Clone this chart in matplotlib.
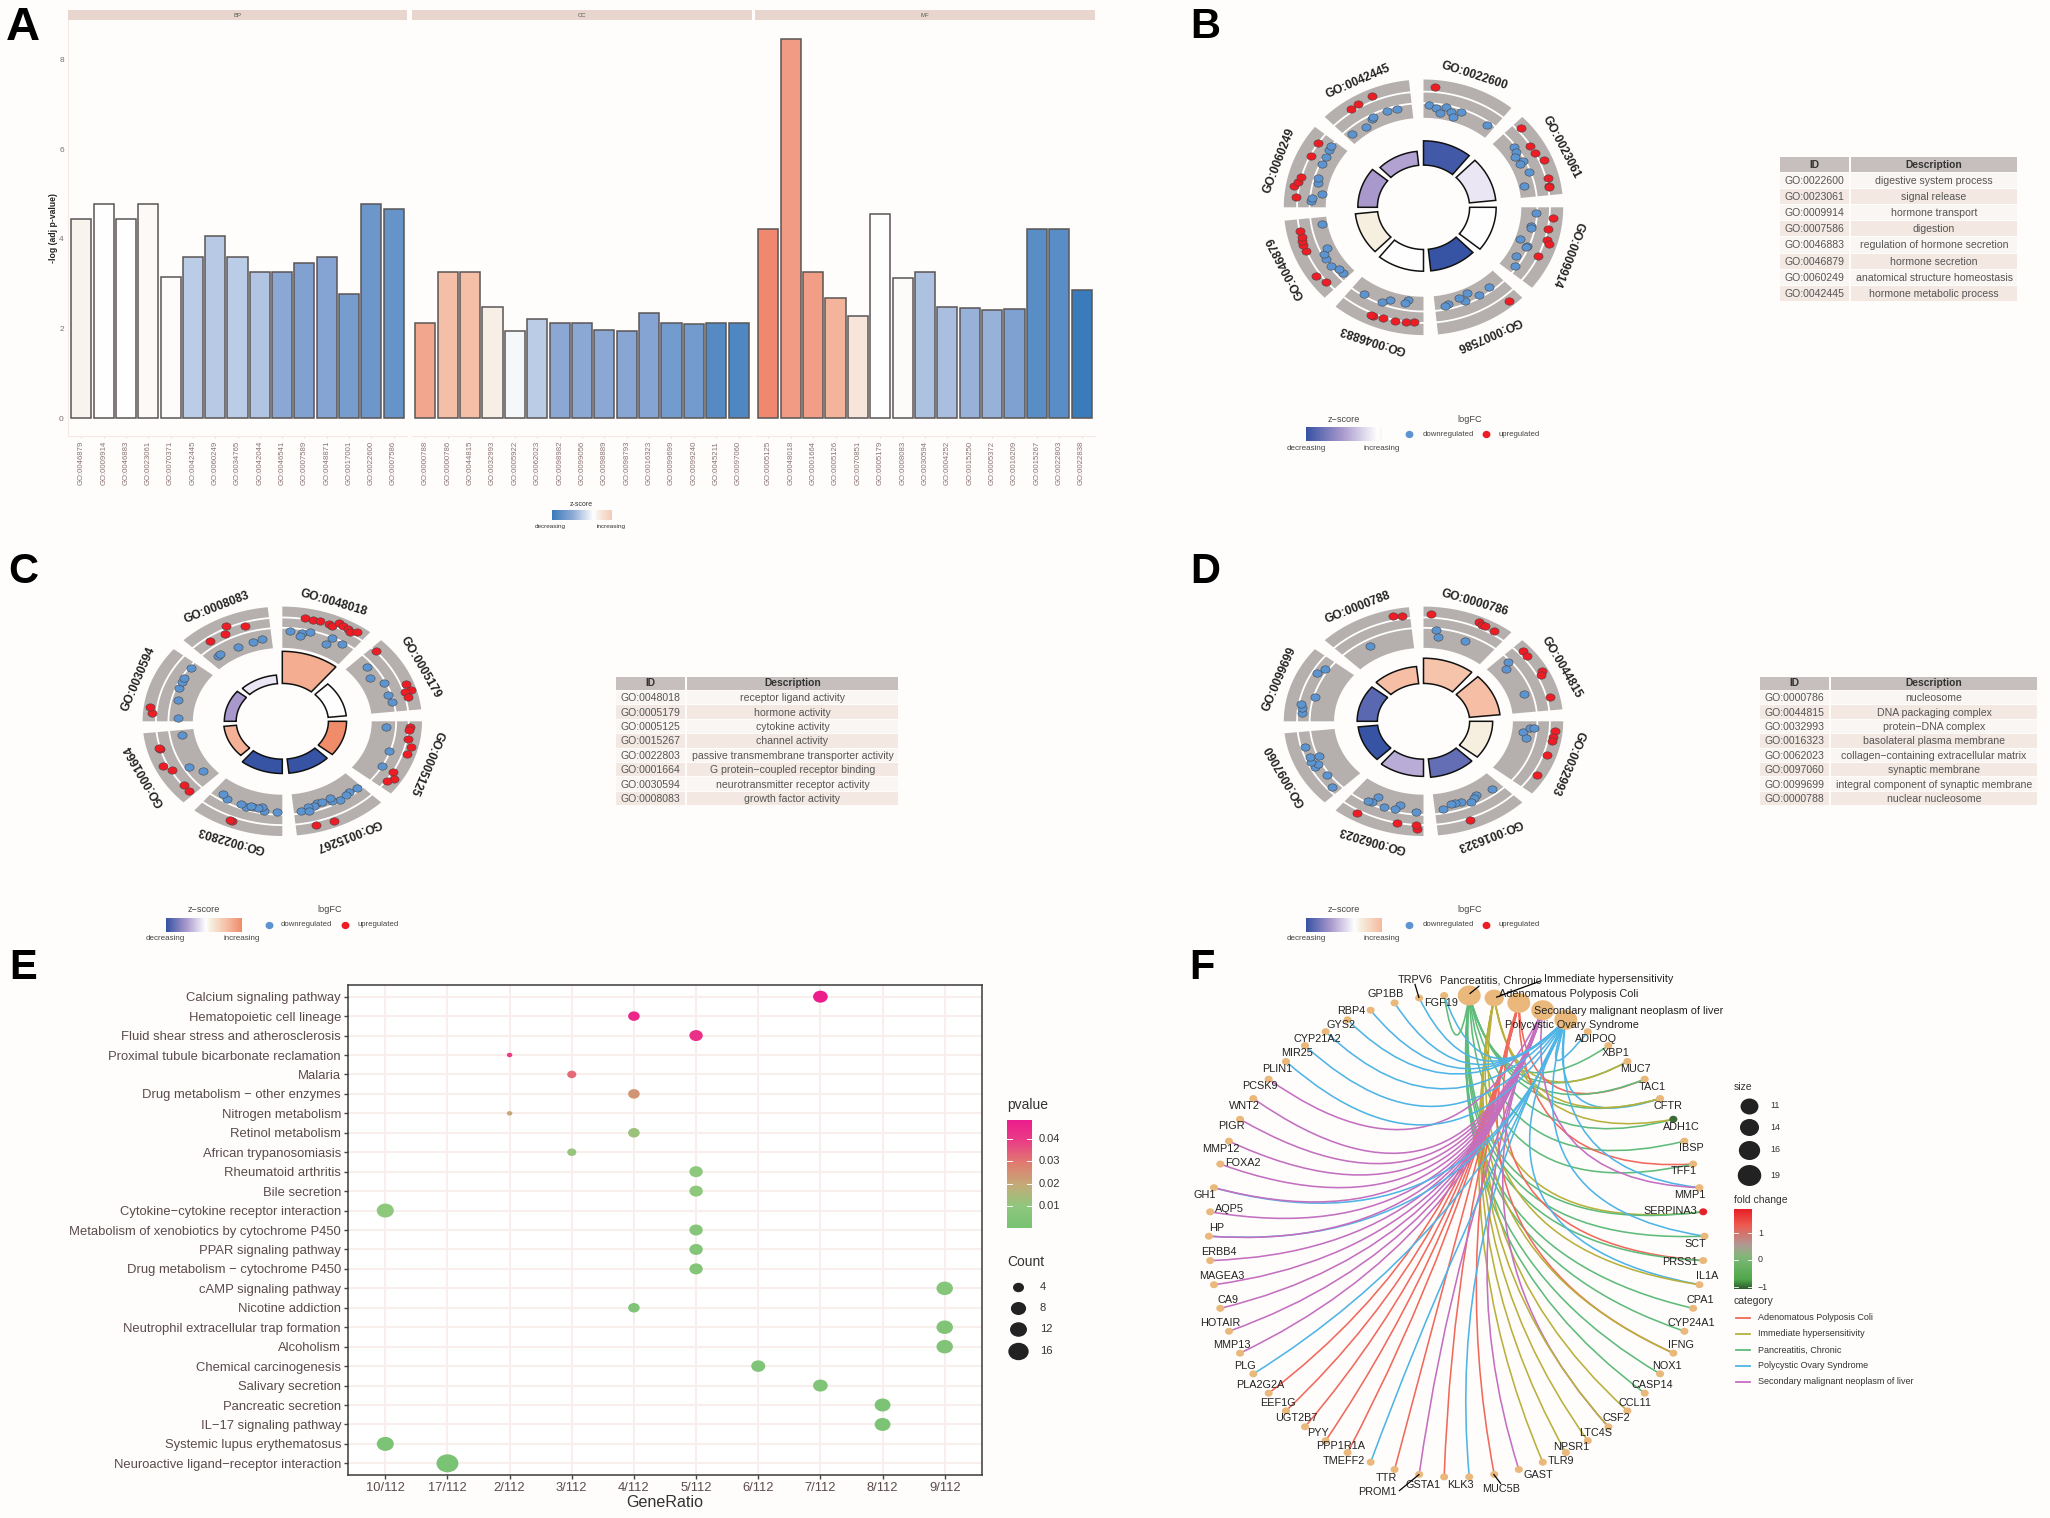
import numpy as np
import matplotlib
matplotlib.use("Agg")
import matplotlib.pyplot as plt
from matplotlib.colors import LinearSegmentedColormap
from matplotlib.markers import MarkerStyle
from matplotlib.patches import PathPatch, Rectangle
from matplotlib.path import Path
from matplotlib.transforms import Affine2D

plt.rcParams['font.family'] = ['Liberation Sans', 'DejaVu Sans']

# ---- panel A ----
bp_terms = ['GO:0046879', 'GO:0009914', 'GO:0046883', 'GO:0023061', 'GO:0070371', 'GO:0042445', 'GO:0060249', 'GO:0034765',
            'GO:0042044', 'GO:0046541', 'GO:0007589', 'GO:0048871', 'GO:0017001', 'GO:0022600', 'GO:0007586']
bp_values = [4.43, 4.78, 4.43, 4.78, 3.15, 3.59, 4.06, 3.59, 3.26, 3.26, 3.45, 3.59, 2.77, 4.78, 4.66]
bp_z = [0.08, 0, 0, 0.04, 0.02, -0.3, -0.32, -0.3, -0.35, -0.52, -0.58, -0.56, -0.64, -0.7, -0.74]
cc_terms = ['GO:0000788', 'GO:0000786', 'GO:0044815', 'GO:0032993', 'GO:0005922', 'GO:0062023', 'GO:0098982', 'GO:0099056',
            'GO:0098889', 'GO:0098793', 'GO:0016323', 'GO:0099699', 'GO:0099240', 'GO:0045211', 'GO:0097060']
cc_values = [2.13, 3.25, 3.25, 2.48, 1.95, 2.22, 2.13, 2.13, 1.97, 1.95, 2.35, 2.13, 2.09, 2.13, 2.13]
cc_z = [0.72, 0.55, 0.55, 0.12, -0.04, -0.3, -0.52, -0.52, -0.52, -0.54, -0.56, -0.66, -0.66, -0.84, -0.88]
mf_terms = ['GO:0005125', 'GO:0048018', 'GO:0001664', 'GO:0005126', 'GO:0070851', 'GO:0005179', 'GO:0008083', 'GO:0030594',
            'GO:0004252', 'GO:0015250', 'GO:0005372', 'GO:0016209', 'GO:0015267', 'GO:0022803', 'GO:0022838']
mf_values = [4.22, 8.45, 3.25, 2.67, 2.28, 4.55, 3.12, 3.25, 2.47, 2.45, 2.42, 2.44, 4.22, 4.22, 2.86]
mf_z = [0.95, 0.8, 0.78, 0.62, 0.2, 0, 0.03, -0.36, -0.38, -0.46, -0.46, -0.6, -0.82, -0.82, -1]

# ---- panels B, C, D (GO circle): terms, bar height, z-score, (degrees into sector, logFC) ----
b_terms = ['GO:0022600', 'GO:0023061', 'GO:0009914', 'GO:0007586', 'GO:0046883', 'GO:0046879', 'GO:0060249', 'GO:0042445']
b_desc = ['digestive system process', 'signal release', 'hormone transport', 'digestion', 'regulation of hormone secretion',
          'hormone secretion', 'anatomical structure homeostasis', 'hormone metabolic process']
b_height = [0.52, 0.52, 0.52, 0.50, 0.50, 0.49, 0.47, 0.44]
b_z = [-0.95, -0.12, 0, -1, 0, 0.12, -0.5, -0.45]
b_up = [[(4.8, 1.23)],
        [(3.5, 1.03), (12.7, 0.6), (17, 0.67), (22, 1.14), (30.6, 0.83), (34.5, 0.79), (35, 0.75)],
        [(5, 0.98), (11, 0.7), (16, 0.8), (18, 1.17), (25, 0.63)],
        [(5, 1.33)],
        [(4.5, 0.63), (8, 0.63), (13, 0.81), (18.5, 0.74), (23, 0.89), (24, 0.86)],
        [(5, 0.76), (10, 1.1), (23, 0.68), (26, 0.77), (28, 0.73), (30, 0.57), (33, 0.62)],
        [(5, 0.81), (10, 1.13), (12.6, 0.84), (15.3, 0.7), (26.7, 0.6), (33.8, 0.67)],
        [(11, 1.03), (15, 1.11), (22, 1.24)]]
b_down = [[(2.6, -0.86), (6.4, -1.17), (8.9, -1.67), (11.5, -0.9), (14.6, -1.26), (16.6, -1.8), (19.6, -0.99), (35.2, -1.09)],
          [(9, -0.86), (11.7, -0.96), (13.8, -1.36), (18, -0.86), (19, -1.34), (25, -0.85), (31.8, -1.74)],
          [(3, -0.81), (11, -1.09), (12, -1.0), (20, -1.77), (22, -0.86), (23, -0.9), (30, -1.38), (35, -0.89)],
          [(8, -1.19), (15, -0.94), (20, -1.74), (23, -0.97), (25, -1.53), (32, -1.21), (34, -1.0)],
          [(8.7, -1.75), (10, -1.45), (18, -1.36), (22, -0.91), (32, -0.86)],
          [(3.6, -1.26), (6.5, -1.21), (10, -0.8), (15, -0.8), (18, -0.86), (20.6, -1.4), (35, -1.76)],
          [(3.5, -0.8), (5, -0.86), (8.4, -1.8), (14.4, -1.17), (17, -0.96), (25, -0.79), (29.6, -0.83), (33.6, -0.71), (36, -0.65)],
          [(3, -1.3), (12, -1.53), (17, -1.16), (18, -1.0), (26, -0.9), (31, -0.99)]]

c_terms = ['GO:0048018', 'GO:0005179', 'GO:0005125', 'GO:0015267', 'GO:0022803', 'GO:0001664', 'GO:0030594', 'GO:0008083']
c_desc = ['receptor ligand activity', 'hormone activity', 'cytokine activity', 'channel activity',
          'passive transmembrane transporter activity', 'G protein\u2212coupled receptor binding',
          'neurotransmitter receptor activity', 'growth factor activity']
c_height = [0.61, 0.46, 0.46, 0.455, 0.455, 0.42, 0.415, 0.405]
c_z = [0.65, 0, 0.9, -1, -1, 0.62, -0.5, -0.12]
c_up = [[(10.3, 0.76), (13.9, 0.68), (17.1, 0.79), (21.4, 0.74), (23, 0.61), (25.5, 1.24), (27.7, 1.13), (30.2, 0.97), (32, 0.84), (34.3, 1.24)],
        [(2.5, 0.67), (25, 1.17), (28.5, 1.43), (29, 0.76), (31.6, 0.91)],
        [(3, 0.76), (5, 0.73), (9.5, 0.74), (13.5, 1.23), (17.7, 1.07), (29, 0.7), (32, 1.23), (35, 0.77)],
        [(22, 1.17), (30, 1.11)],
        [(22.3, 1.14), (23.5, 1.1)],
        [(3, 0.6), (6.8, 0.54), (16.5, 0.5), (20.4, 1.11), (29.5, 0.73), (30, 0.78)],
        [(4.3, 1.09), (7.3, 1.4)],
        [(8.5, 0.13), (17, 0.09), (19, 0.91), (27, 0.14)]]
c_down = [[(4, -0.96), (10.6, -1.14), (9.9, -1.5), (14.2, -0.86), (26.2, -0.76), (24.9, -1.74), (32.5, -0.86)],
          [(6.7, -1.29), (13.8, -1.77), (20, -0.86), (28, -0.93), (33, -0.81)],
          [(3.6, -1.7), (18.5, -0.76), (28.6, -0.73)],
          [(2.6, -0.99), (7, -1.17), (9.5, -1.0), (14, -0.89), (18, -1.09), (18, -1.53), (26, -1.47), (28, -1.26), (31, -1.26), (35.5, -1.0), (31, -0.81), (23, -1.4)],
          [(3, -1.0), (9.5, -1.0), (11, -1.46), (15.4, -1.17), (19, -1.04), (22.4, -1.1), (30, -1.06), (33.8, -1.39), (13, -1.2), (17, -1.2)],
          [(8, -2.07), (14, -1.2), (35.6, -1.89)],
          [(2.5, -1.59), (14.2, -1.27), (21.3, -0.96), (25.7, -0.9), (28, -0.87), (35.2, -0.86)],
          [(6, -1.81), (7.5, -1.75), (19, -2.0), (28, -2.0), (33.7, -1.87)]]

d_terms = ['GO:0000786', 'GO:0044815', 'GO:0032993', 'GO:0016323', 'GO:0062023', 'GO:0097060', 'GO:0099699', 'GO:0000788']
d_desc = ['nucleosome', 'DNA packaging complex', 'protein\u2212DNA complex', 'basolateral plasma membrane',
          'collagen\u2212containing extracellular matrix', 'synaptic membrane',
          'integral component of synaptic membrane', 'nuclear nucleosome']
d_height = [0.55, 0.55, 0.495, 0.49, 0.48, 0.47, 0.475, 0.48]
d_z = [0.48, 0.52, 0.12, -0.8, -0.4, -1, -0.85, 0.52]
d_up = [[(3.4, 1.11), (24.5, 1.36), (26.3, 1.14), (28.1, 1.17), (32.5, 1.11)],
        [(4.4, 1.16), (7.5, 1.09), (17.4, 1.34), (19.3, 1.04), (32, 1.04)],
        [(5.3, 1.26), (8.2, 1.13), (10.6, 1.04), (18.5, 1.06), (30, 1.14)],
        [(23.7, 0.94)],
        [(2.7, 1.1), (3.3, 0.64), (12, 0.71), (31, 0.97)],
        [],
        [],
        [(31.8, 1.16), (35.7, 1.06)]]
d_down = [[(6.3, -0.87), (8, -1.64), (22.8, -1.43)],
          [(4.7, -0.91), (7.2, -1.6), (26.4, -1.47)],
          [(7.5, -2.06), (4.6, -1.37), (4.4, -0.91), (11.5, -1.64)],
          [(5.6, -1.31), (14.6, -1.65), (16.5, -1.36), (19.3, -1.19), (24.4, -1.51), (27.5, -1.57), (30, -1.6), (34.7, -1.21)],
          [(3.7, -1.0), (13, -1.53), (15, -0.97), (21, -0.9), (26.5, -1.76), (27.6, -0.9), (29.7, -0.86)],
          [(4, 0.16), (10.7, -0.36), (17.6, 0.17), (18.7, -0.2), (21.4, 0.28), (24, 0.16), (23, -0.8), (30, 0.28)],
          [(4.6, 0.17), (7.4, 0.23), (10, 0.39), (15.3, -0.81), (29, 0.11), (33, -0.26)],
          [(15, -1.43)]]

# ---- panel E (dot plot) ----
pathways = ['Calcium signaling pathway', 'Hematopoietic cell lineage', 'Fluid shear stress and atherosclerosis',
            'Proximal tubule bicarbonate reclamation', 'Malaria', 'Drug metabolism \u2212 other enzymes', 'Nitrogen metabolism',
            'Retinol metabolism', 'African trypanosomiasis', 'Rheumatoid arthritis', 'Bile secretion',
            'Cytokine\u2212cytokine receptor interaction', 'Metabolism of xenobiotics by cytochrome P450', 'PPAR signaling pathway',
            'Drug metabolism \u2212 cytochrome P450', 'cAMP signaling pathway', 'Nicotine addiction',
            'Neutrophil extracellular trap formation', 'Alcoholism', 'Chemical carcinogenesis', 'Salivary secretion',
            'Pancreatic secretion', 'IL\u221217 signaling pathway', 'Systemic lupus erythematosus',
            'Neuroactive ligand\u2212receptor interaction']
ratio_labels = ['10/112', '17/112', '2/112', '3/112', '4/112', '5/112', '6/112', '7/112', '8/112', '9/112']
path_ratio = ['7/112', '4/112', '5/112', '2/112', '3/112', '4/112', '2/112', '4/112', '3/112', '5/112', '5/112', '10/112', '5/112',
              '5/112', '5/112', '9/112', '4/112', '9/112', '9/112', '6/112', '7/112', '8/112', '8/112', '10/112', '17/112']
path_count = [7, 4, 5, 2, 3, 4, 2, 4, 3, 5, 5, 10, 5, 5, 5, 9, 4, 9, 9, 6, 7, 8, 8, 10, 17]
path_pvalue = [0.048, 0.045, 0.043, 0.04, 0.032, 0.024, 0.02, 0.012, 0.011, 0.009, 0.009, 0.009, 0.006, 0.005, 0.005,
               0.006, 0.004, 0.004, 0.004, 0.003, 0.003, 0.002, 0.002, 0.002, 0.001]
count_legend = [4, 8, 12, 16]
pvalue_ticks = [0.01, 0.02, 0.03, 0.04]

# ---- panel F (gene-concept network); nodes run clockwise round the circle ----
concepts = ['Pancreatitis, Chronic', 'Immediate hypersensitivity', 'Adenomatous Polyposis Coli',
            'Secondary malignant neoplasm of liver', 'Polycystic Ovary Syndrome']
concept_size = [16, 11, 16, 16, 16]
genes = ['ADIPOQ', 'XBP1', 'MUC7', 'TAC1', 'CFTR', 'ADH1C', 'IBSP', 'TFF1', 'MMP1', 'SERPINA3', 'SCT', 'PRSS1', 'IL1A', 'CPA1',
         'CYP24A1', 'IFNG', 'NOX1', 'CASP14', 'CCL11', 'CSF2', 'LTC4S', 'NPSR1', 'TLR9', 'GAST', 'MUC5B', 'KLK3', 'GSTA1', 'PROM1',
         'TTR', 'TMEFF2', 'PPP1R1A', 'PYY', 'UGT2B7', 'EEF1G', 'PLA2G2A', 'PLG', 'MMP13', 'HOTAIR', 'CA9', 'MAGEA3', 'ERBB4', 'HP',
         'AQP5', 'GH1', 'FOXA2', 'MMP12', 'PIGR', 'WNT2', 'PCSK9', 'PLIN1', 'MIR25', 'CYP21A2', 'GYS2', 'RBP4', 'GP1BB', 'TRPV6', 'FGF19']
# which concepts a gene belongs to (index into concepts)
gene_links = [[4], [0], [0, 1], [2, 0], [4, 0, 1], [0, 1], [0], [2, 0], [4, 3], [1, 0], [4, 0], [2, 0], [4, 1], [0],
              [0], [2, 1], [0], [0], [1], [3, 1], [1], [1], [1], [3], [2], [4], [2], [3],
              [2], [4], [2], [2], [2], [2], [2], [4], [3], [3], [3], [3], [3], [4, 3],
              [3], [4, 3], [3], [3], [3], [3], [3], [4], [4], [4], [4], [4], [4], [4], [4, 0]]
fold_change_special = {'ADH1C': '#3d6b35', 'SERPINA3': '#e8202a'}
size_legend = [11, 14, 16, 19]
category_legend = ['Adenomatous Polyposis Coli', 'Immediate hypersensitivity', 'Pancreatitis, Chronic',
                   'Polycystic Ovary Syndrome', 'Secondary malignant neoplasm of liver']
fold_ticks = [1, 0, -1]

BG = '#fefdfc'
W, H = 2050, 1518
fig = plt.figure(figsize=(20.5, 15.18), dpi=100, facecolor=BG)

bar_cmap = LinearSegmentedColormap.from_list('bar', [(0, '#3a7cbb'), (0.25, '#8faad6'), (0.5, '#ffffff'), (0.55, '#f7f0e9'), (0.78, '#f5bda5'), (1, '#ef8069')])
ring_cmap = LinearSegmentedColormap.from_list('ring', [(0, '#3753a4'), (0.25, '#a898cc'), (0.5, '#ffffff'), (0.56, '#f6efdf'), (0.76, '#f6bfa5'), (1, '#ee7f5c')])
pval_cmap = LinearSegmentedColormap.from_list('pval', [(0, '#78c274'), (0.2, '#8fc87e'), (0.4, '#c5ab78'), (0.6, '#e07c70'), (0.8, '#ea3f85'), (1, '#ec1c8c')])
fold_cmap = LinearSegmentedColormap.from_list('fold', [(0, '#2c5c2e'), (0.12, '#4fa84a'), (0.4, '#7fb878'), (0.55, '#b09a95'), (0.8, '#ee5a50'), (1, '#e81f27')])
cat_colors = {0: '#5fbb7a', 1: '#b9b03c', 2: '#f0695c', 3: '#c46fc0', 4: '#4fb4e6'}
legend_colors = ['#f0695c', '#b9b03c', '#5fbb7a', '#4fb4e6', '#c46fc0']


def px_axes(x0, y0, x1, y1, **kw):
    return fig.add_axes([x0 / W, 1 - y1 / H, (x1 - x0) / W, (y1 - y0) / H], **kw)


def oval(stretch):
    return MarkerStyle('o', transform=Affine2D().scale(stretch, 1))


ov = fig.add_axes([0, 0, 1, 1], zorder=5)
ov.patch.set_alpha(0)
ov.axis('off')


def gradient(x0, y0, x1, y1, cmap, lo, hi, vertical=False):
    g = np.linspace(lo, hi, 256)
    g = g[:, None] if vertical else g[None, :]
    ov.imshow(g, extent=(x0, x1, y1, y0), aspect='auto', cmap=cmap, vmin=0, vmax=1, zorder=2)


# panel letters
for letter, x, y, fs in [('A', 6, 40, 34), ('B', 1190, 38, 30), ('C', 8, 583, 30), ('D', 1190, 583, 30), ('E', 9, 979, 30), ('F', 1189, 979, 30)]:
    ov.text(x, y, letter, fontsize=fs, fontweight='bold', color='black', va='baseline', ha='left')

# ---- A ----
facets = [('BP', bp_terms, bp_values, bp_z, 68, 407), ('CC', cc_terms, cc_values, cc_z, 412, 752), ('MF', mf_terms, mf_values, mf_z, 755, 1095)]
for k, (name, terms, vals, zs, x0, x1) in enumerate(facets):
    ax = px_axes(x0, 20, x1, 436, facecolor='#fffdfc')
    xs = np.arange(len(terms))
    ax.bar(xs, vals, width=0.9, color=bar_cmap((np.array(zs) + 1) / 2), edgecolor='#5a5555', linewidth=1.1)
    ax.set_xlim(-0.6, 14.6)
    ax.set_ylim(-0.4, 8.88)
    ax.set_xticks(xs)
    ax.set_xticklabels(terms, rotation=90, fontsize=5.6, color='#8a7272')
    ax.tick_params(axis='x', length=1.5, pad=2, color='#e8d5cd', width=0.6)
    for s in ['top', 'left', 'right']:
        ax.spines[s].set_visible(False)
    ax.spines['bottom'].set_color('#f6e8e2')
    if k == 0:
        ax.set_yticks([0, 2, 4, 6, 8])
        ax.tick_params(axis='y', labelsize=6, labelcolor='#7d6f6f', length=0, pad=3)
        ax.spines['left'].set_visible(True)
        ax.spines['left'].set_color('#f6e8e2')
    else:
        ax.set_yticks([])
    ov.add_patch(Rectangle((x0, 10), x1 - x0, 10, facecolor='#e8d5cd', edgecolor='none'))
    ov.text((x0 + x1) / 2, 15.5, name, fontsize=4.3, color='#555555', ha='center', va='center')
ov.text(53, 228, '-log (adj p-value)', fontsize=6.2, fontweight='bold', rotation=90, ha='center', va='center', color='#222222')
ov.text(581, 504, 'z-score', fontsize=5, ha='center', va='center', color='#333333')
gradient(552, 510, 612, 520, bar_cmap, 0, 0.72)
ov.text(550, 526.5, 'decreasing', fontsize=4.6, ha='center', va='center', color='#333333')
ov.text(611, 526.5, 'increasing', fontsize=4.6, ha='center', va='center', color='#333333')


# ---- B, C, D ----
def arc_fill(ax, a0, a1, r0, r1, **kw):
    t = np.radians(np.linspace(a0, a1, 40))
    xs = np.r_[r1 * np.sin(t), r0 * np.sin(t[::-1])]
    ys = np.r_[r1 * np.cos(t), r0 * np.cos(t[::-1])]
    ax.fill(xs, ys, **kw)


def go_circle(cx, cy, rx, ry, inner, terms, heights, zs, up, down):
    ax = px_axes(cx - 1.25 * rx, cy - 1.25 * ry, cx + 1.25 * rx, cy + 1.25 * ry)
    ax.set_xlim(-1.25, 1.25)
    ax.set_ylim(-1.25, 1.25)
    ax.axis('off')
    span = 39
    for i, term in enumerate(terms):
        a0 = i * 45
        arc_fill(ax, a0, a0 + span, inner, 1.0, facecolor='#b5b0ae', edgecolor='none', zorder=1)
        for r in (0.815, 0.905):
            t = np.radians(np.linspace(a0, a0 + span, 30))
            ax.plot(r * np.sin(t), r * np.cos(t), color='white', lw=1.3, zorder=2)
        arc_fill(ax, a0, a0 + span, 0.33, heights[i], facecolor=ring_cmap((zs[i] + 1) / 2), edgecolor='#111111', linewidth=1.1, zorder=2)
        for pts, col in ((down[i], '#5b94d0'), (up[i], '#ee1c25')):
            if not pts:
                continue
            d = np.radians(a0 + np.array([p[0] for p in pts]))
            r = 0.86 + 0.07 * np.array([p[1] for p in pts])
            ax.scatter(r * np.sin(d), r * np.cos(d), s=28, marker=oval(1.25), color=col, edgecolor='#444444', linewidth=0.4, zorder=3)
        mid = np.radians(a0 + span / 2)
        rot = np.degrees(np.arctan2(-ry * np.sin(mid), rx * np.cos(mid)))
        ax.text(1.095 * np.sin(mid), 1.095 * np.cos(mid), term, fontsize=8.6, fontweight='bold', rotation=rot, rotation_mode='anchor',
                ha='center', va='center', color='#222222', zorder=4)


go_circle(1423.5, 207.3, 139.7, 127.8, 0.70, b_terms, b_height, b_z, b_up, b_down)
go_circle(282.3, 721.3, 139.7, 114.7, 0.64, c_terms, c_height, c_z, c_up, c_down)
go_circle(1423.5, 721.3, 139.7, 114.7, 0.64, d_terms, d_height, d_z, d_up, d_down)


def go_table(x0, x1, x2, x3, y0, head_h, row_h, terms, desc):
    for x, w, t in [(x0, x1 - x0, 'ID'), (x2, x3 - x2, 'Description')]:
        ov.add_patch(Rectangle((x, y0), w, head_h, facecolor='#c6bfbd', edgecolor='none'))
        ov.text(x + w / 2, y0 + head_h / 2, t, fontsize=7.4, fontweight='bold', ha='center', va='center', color='#333333')
    for i, (a, b) in enumerate(zip(terms, desc)):
        y = y0 + head_h + 1 + i * row_h
        col = '#faf6f4' if i % 2 == 0 else '#f3e9e2'
        ov.add_patch(Rectangle((x0, y), x1 - x0, row_h - 1, facecolor=col, edgecolor='none'))
        ov.add_patch(Rectangle((x2, y), x3 - x2, row_h - 1, facecolor=col, edgecolor='none'))
        ov.text((x0 + x1) / 2, y + row_h / 2, a, fontsize=7.6, ha='center', va='center', color='#555555')
        ov.text((x2 + x3) / 2, y + row_h / 2, b, fontsize=7.6, ha='center', va='center', color='#555555')


go_table(1780, 1849, 1851, 2017, 157, 15, 16.1, b_terms, b_desc)
go_table(616, 685, 687, 898, 677, 13, 14.4, c_terms, c_desc)
go_table(1760, 1829, 1831, 2037, 677, 13, 14.4, d_terms, d_desc)


def go_legend(bar_x0, y, hi, title_x, dot1, text1, dot2, text2):
    # y is the top of the colour bar
    bar_x1 = bar_x0 + 76
    ov.text((bar_x0 + bar_x1) / 2, y - 8, 'z\u2212score', fontsize=6.6, ha='center', va='center', color='#444444')
    gradient(bar_x0, y, bar_x1, y + 14, ring_cmap, 0, hi)
    ov.text(bar_x0, y + 21, 'decreasing', fontsize=5.8, ha='center', va='center', color='#444444')
    ov.text(bar_x1, y + 21, 'increasing', fontsize=5.8, ha='center', va='center', color='#444444')
    ov.text(title_x, y - 8, 'logFC', fontsize=6.6, ha='center', va='center', color='#444444')
    ov.scatter([dot1], [y + 7], s=18, marker=oval(1.1), color='#5b94d0')
    ov.text(text1, y + 7, 'downregulated', fontsize=5.6, ha='center', va='center', color='#444444')
    ov.scatter([dot2], [y + 7], s=18, marker=oval(1.1), color='#ee1c25')
    ov.text(text2, y + 7, 'upregulated', fontsize=5.6, ha='center', va='center', color='#444444')


go_legend(1306, 427, 0.53, 1470, 1409, 1448, 1486, 1519)
go_legend(165.5, 918, 0.95, 330, 269, 306, 345, 378)
go_legend(1306, 918, 0.78, 1470, 1409, 1448, 1486, 1519)

# ---- E ----
ax = px_axes(348, 985, 982, 1475, facecolor='white')
ys = np.arange(len(pathways))[::-1]
xs = [ratio_labels.index(r) for r in path_ratio]
diam = np.interp(path_count, [2, 3, 4, 5, 6, 7, 8, 9, 10, 17], [4.5, 7.5, 9.5, 11, 11.5, 12, 13, 13.5, 14, 18])
ax.grid(True, color='#f8eeeb', lw=1.5)
ax.set_axisbelow(True)
ax.scatter(xs, ys, s=(diam * 0.72) ** 2, marker=oval(1.22), c=np.array(path_pvalue) / 0.0485, cmap=pval_cmap, vmin=0, vmax=1, linewidths=0, zorder=3)
ax.set_xlim(-0.6, 9.6)
ax.set_ylim(-0.6, 24.6)
ax.set_xticks(range(len(ratio_labels)))
ax.set_xticklabels(ratio_labels, fontsize=9.3, color='#5b4b4b')
ax.set_yticks(ys)
ax.set_yticklabels(pathways, fontsize=9.35, color='#5b4b4b')
ax.tick_params(length=3, width=1, color='#444444', pad=2)
for s in ax.spines.values():
    s.set_color('#3a3a3a')
    s.set_linewidth(1.1)
ax.set_xlabel('GeneRatio', fontsize=11.6, color='#333333', labelpad=1)

ov.text(1007, 1105, 'pvalue', fontsize=10, va='center', color='#333333')
gradient(1007, 1120, 1032, 1228, pval_cmap, 1, 0, vertical=True)
for v in pvalue_ticks:
    y = 1228 - (v - 0.0002) / 0.01 * 22.4
    ov.plot([1007, 1012], [y, y], color='white', lw=0.7)
    ov.plot([1027, 1032], [y, y], color='white', lw=0.7)
    ov.text(1039, y, f'{v:.2f}', fontsize=8, va='center', color='#333333')
ov.text(1007, 1262, 'Count', fontsize=10, va='center', color='#333333')
for c, y, h in zip(count_legend, [1287, 1308, 1329, 1351], [9.4, 13, 14.5, 17.4]):
    ov.scatter([1018], [y], s=(h * 0.72) ** 2, marker=oval(1.17), color='#222222', linewidths=0)
    ov.text(1040, y, str(c), fontsize=8, va='center', color='#333333')

# ---- F ----
NET_CX, NET_CY, NET_RX, NET_RY = 1456.7, 1236.2, 247.8, 241
ax = px_axes(NET_CX - 1.1 * NET_RX, NET_CY - 1.1 * NET_RY, NET_CX + 1.1 * NET_RX, NET_CY + 1.1 * NET_RY)
ax.set_xlim(-1.1, 1.1)
ax.set_ylim(-1.1, 1.1)
ax.axis('off')
n_nodes = len(concepts) + len(genes)
theta = np.radians(2.9 + 360 / n_nodes * np.arange(n_nodes))
node_x, node_y = np.sin(theta), np.cos(theta)
for g, links in enumerate(gene_links):
    gi = g + len(concepts)
    for c in links:
        p0 = np.array([node_x[c], node_y[c]])
        p1 = np.array([node_x[gi], node_y[gi]])
        mid = (p0 + p1) / 2
        # short links bow less than long ones
        chord = np.hypot(*(p1 - p0))
        bend = np.interp(chord, [0, 0.5, 0.88, 1.0, 1.15, 1.22, 1.6, 2], [0.3, 0.44, 0.5, 0.63, 0.86, 1.03, 1.16, 1.16])
        ctrl = mid * (1 - bend)
        path = Path([p0, ctrl, p1], [Path.MOVETO, Path.CURVE3, Path.CURVE3])
        ax.add_patch(PathPatch(path, facecolor='none', edgecolor=cat_colors[c], lw=1.15, zorder=1))
gene_colors = [fold_change_special.get(g, '#e9b87a') for g in genes]
ax.scatter(node_x[len(concepts):], node_y[len(concepts):], s=(7 * 0.72) ** 2, marker=oval(1.15), c=gene_colors, linewidths=0, zorder=3)
concept_h = np.interp(concept_size, size_legend, [16, 17, 19, 21]) * 1.05
ax.scatter(node_x[:len(concepts)], node_y[:len(concepts)], s=(concept_h * 0.72) ** 2, marker=oval(1.15), color='#e9b87a', linewidths=0, zorder=3)

# repelled label places, read in crop units of the reference
label_xy = {'TRPV6': (423, 82), 'Pancreatitis, Chronic': (560, 83), 'Immediate hypersensitivity': (772, 80), 'GP1BB': (370, 121),
            'Adenomatous Polyposis Coli': (700, 121), 'FGF19': (470, 145), 'RBP4': (308, 167),
            'Secondary malignant neoplasm of liver': (808, 168), 'GYS2': (290, 207), 'Polycystic Ovary Syndrome': (705, 207),
            'CYP21A2': (247, 245), 'ADIPOQ': (748, 245), 'MIR25': (210, 284), 'XBP1': (784, 284), 'PLIN1': (175, 328), 'MUC7': (820, 328),
            'PCSK9': (144, 376), 'TAC1': (850, 378), 'WNT2': (116, 430), 'CFTR': (878, 430), 'PIGR': (92, 487), 'ADH1C': (902, 488),
            'MMP12': (73, 548), 'IBSP': (921, 547), 'FOXA2': (113, 588), 'TFF1': (907, 611), 'GH1': (45, 677), 'MMP1': (918, 677),
            'AQP5': (89, 716), 'SERPINA3': (883, 721), 'HP': (66, 766), 'SCT': (928, 811), 'ERBB4': (70, 834), 'PRSS1': (899, 861),
            'MAGEA3': (75, 901), 'IL1A': (949, 901), 'CA9': (87, 966), 'CPA1': (937, 966), 'HOTAIR': (73, 1030), 'CYP24A1': (921, 1029),
            'MMP13': (93, 1090), 'IFNG': (902, 1090), 'PLG': (117, 1147), 'NOX1': (877, 1147), 'PLA2G2A': (144, 1200), 'CASP14': (851, 1200),
            'EEF1G': (176, 1250), 'CCL11': (819, 1250), 'UGT2B7': (210, 1293), 'CSF2': (786, 1293), 'PYY': (248, 1332), 'LTC4S': (748, 1332),
            'PPP1R1A': (290, 1369), 'NPSR1': (704, 1371), 'TMEFF2': (295, 1410), 'TLR9': (685, 1410), 'TTR': (371, 1457), 'GAST': (645, 1448),
            'PROM1': (355, 1495), 'GSTA1': (437, 1476), 'KLK3': (505, 1477), 'MUC5B': (578, 1487)}


def fpx(x, y):
    return 1180 + x / 1.8, 950 + y / 2.76


for name, (x, y) in label_xy.items():
    px, py = fpx(x, y)
    ov.text(px, py, name, fontsize=7.8, ha='center', va='center', color='#222222', zorder=6)
for (x0, y0), (x1, y1) in [((423, 95), (430, 131)), ((538, 100), (522, 120)), ((650, 85), (570, 130)), ((395, 1492), (430, 1448)), ((565, 1448), (577, 1472))]:
    a, b = fpx(x0, y0), fpx(x1, y1)
    ov.plot([a[0], b[0]], [a[1], b[1]], color='black', lw=0.9, zorder=6)

ov.text(1734, 1087, 'size', fontsize=7.5, va='center', color='#333333')
for s, y, h in zip(size_legend, [1106, 1127, 1150, 1175], [16, 17, 19, 21]):
    ov.scatter([1749], [y], s=(h * 0.72) ** 2, marker=oval(1.12), color='#222222', linewidths=0)
    ov.text(1770, y, str(s), fontsize=6.4, va='center', color='#333333')
ov.text(1734, 1200, 'fold change', fontsize=7.5, va='center', color='#333333')
gradient(1734, 1209, 1752, 1289, fold_cmap, 1, 0, vertical=True)
for v, y in zip(fold_ticks, [1233, 1260, 1287]):
    ov.plot([1734, 1738], [y, y], color='white', lw=0.6)
    ov.plot([1748, 1752], [y, y], color='white', lw=0.6)
    ov.text(1758, y, '\u22121' if v < 0 else str(v), fontsize=6.4, va='center', color='#333333')
ov.text(1734, 1301, 'category', fontsize=7.5, va='center', color='#333333')
for name, col, y in zip(category_legend, legend_colors, [1318, 1334, 1350, 1366, 1382]):
    ov.plot([1736, 1750], [y, y], color=col, lw=1.3)
    ov.text(1758, y, name, fontsize=6.5, va='center', color='#333333')

ov.set_xlim(0, W)
ov.set_ylim(H, 0)
fig.savefig('out.png', dpi=100, facecolor=BG)
